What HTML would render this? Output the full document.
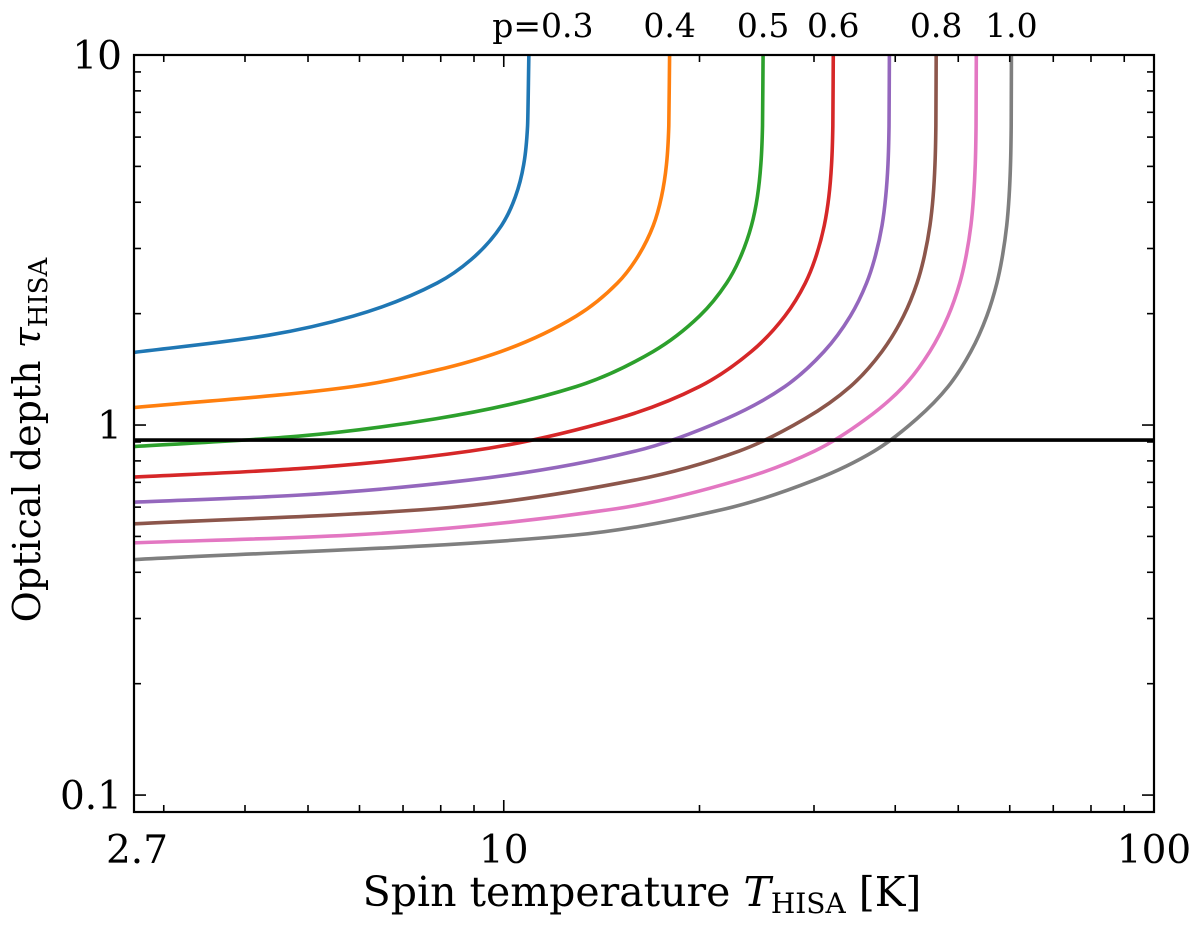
<!DOCTYPE html>
<html><head><meta charset="utf-8"><style>
html,body{margin:0;padding:0;background:#fff}
svg{display:block}
text{font-family:"DejaVu Serif","Liberation Serif",serif;fill:#000}
</style></head><body>
<svg id="chart" width="1200" height="926" viewBox="0 0 1200 926" xmlns="http://www.w3.org/2000/svg"></svg>
<script>
const pLabels = ["p=0.3","0.4","0.5","0.6","0.7","0.8","0.9","1.0"];
const colors = ["#1f77b4","#ff7f0e","#2ca02c","#d62728","#9467bd","#8c564b","#e377c2","#7f7f7f"];
const curveP03 = [[2.65,1.565],[4.35,1.749],[5.87,1.97],[7.9,2.42],[8.91,2.80],[9.92,3.46],[10.42,4.14],[10.73,5.05],[10.88,6.43],[10.93,10]];
const curveP04 = [[2.65,1.111],[5.85,1.27],[7.88,1.407],[9.9,1.58],[12.93,1.97],[14.96,2.42],[15.97,2.80],[16.98,3.46],[17.48,4.14],[17.79,5.05],[17.94,6.43],[17.99,10]];
const curveP05 = [[2.65,0.873],[4.83,0.933],[7.87,1.04],[12.92,1.27],[16.97,1.58],[20.0,1.97],[22.02,2.42],[23.03,2.80],[24.04,3.46],[24.55,4.14],[24.85,5.05],[25.0,6.43],[25.05,10]];
const curveP06 = [[2.65,0.722],[4.82,0.762],[8.87,0.85],[14.93,1.04],[19.99,1.27],[24.03,1.58],[27.06,1.97],[29.09,2.42],[30.1,2.80],[31.11,3.46],[31.62,4.14],[31.92,5.05],[32.07,6.43],[32.12,10]];
const curveP07 = [[2.65,0.618],[4.8,0.646],[8.85,0.71],[15.92,0.85],[21.99,1.04],[27.05,1.27],[31.09,1.58],[34.12,1.97],[36.14,2.42],[37.15,2.80],[38.17,3.46],[38.67,4.14],[38.98,5.05],[39.13,6.43],[39.18,10]];
const curveP08 = [[2.65,0.540],[7.83,0.594],[15.91,0.71],[22.99,0.85],[29.06,1.04],[34.11,1.27],[38.16,1.58],[41.19,1.97],[43.21,2.42],[44.22,2.80],[45.23,3.46],[45.74,4.14],[46.04,5.05],[46.19,6.43],[46.24,10]];
const curveP09 = [[2.65,0.480],[5.78,0.504],[14.88,0.594],[22.97,0.71],[30.05,0.85],[36.11,1.04],[41.17,1.27],[45.21,1.58],[48.24,1.97],[50.27,2.42],[51.28,2.80],[52.29,3.46],[52.79,4.14],[53.1,5.05],[53.25,6.43],[53.3,10]];
const curveP10 = [[2.65,0.432],[12.85,0.504],[21.95,0.594],[30.04,0.71],[37.11,0.85],[43.18,1.04],[48.23,1.27],[52.28,1.58],[55.31,1.97],[57.33,2.42],[58.34,2.80],[59.36,3.46],[59.86,4.14],[60.16,5.05],[60.31,6.43],[60.36,10]];
const curves = [curveP03,curveP04,curveP05,curveP06,curveP07,curveP08,curveP09,curveP10];
const labelShown = [true,true,true,true,false,true,false,true];
const tauLine = [0.911];
const xTickValues = [2.7,10,100];
const xTickLabels = ["2.7","10","100"];
const yTickValues = [0.1,1,10];
const yTickLabels = ["0.1","1","10"];

const L=134,R=1154,T=55,B=812;
const xMin=2.7,xMax=100,yMin=0.09,yMax=10;
const lx=v=>L+(Math.log10(v)-Math.log10(xMin))/(Math.log10(xMax)-Math.log10(xMin))*(R-L);
const ly=v=>B-(Math.log10(v)-Math.log10(yMin))/(Math.log10(yMax)-Math.log10(yMin))*(B-T);
const svg=document.getElementById('chart');
const NS="http://www.w3.org/2000/svg";
function mk(tag,attrs,parent){const e=document.createElementNS(NS,tag);for(const k in attrs)e.setAttribute(k,attrs[k]);(parent||svg).appendChild(e);return e;}

const clip=mk('clipPath',{id:'pc'});mk('rect',{x:L,y:T,width:R-L,height:B-T},clip);

function monotonePath(pts){
  const n=pts.length;const dx=[],m=[],t=[];
  for(let i=0;i<n-1;i++){dx[i]=pts[i+1][0]-pts[i][0];m[i]=(pts[i+1][1]-pts[i][1])/dx[i];}
  t[0]=m[0];t[n-1]=m[n-2];
  for(let i=1;i<n-1;i++){if(m[i-1]*m[i]<=0)t[i]=0;else{const w1=2*dx[i]+dx[i-1],w2=dx[i]+2*dx[i-1];t[i]=(w1+w2)/(w1/m[i-1]+w2/m[i]);}}
  let d="M"+pts[0][0].toFixed(2)+","+pts[0][1].toFixed(2);
  for(let i=0;i<n-1;i++){const h=dx[i]/3;
    d+=" C"+(pts[i][0]+h).toFixed(2)+","+(pts[i][1]+t[i]*h).toFixed(2)+" "+(pts[i+1][0]-h).toFixed(2)+","+(pts[i+1][1]-t[i+1]*h).toFixed(2)+" "+pts[i+1][0].toFixed(2)+","+pts[i+1][1].toFixed(2);}
  return d;
}

const g=mk('g',{'clip-path':'url(#pc)'});


curves.forEach((c,i)=>{
  const pts=c.map(p=>[lx(p[0]),ly(p[1])]);
  const p=mk('path',{d:monotonePath(pts),fill:'none',stroke:colors[i],'stroke-width':3.6},g);
  
  
});
const hl=mk('line',{x1:L,x2:R,y1:ly(tauLine[0]),y2:ly(tauLine[0]),stroke:'#000','stroke-width':3.6},g);



curves.forEach((c,i)=>{
  if(!labelShown[i])return;
  const last=c[c.length-1];
  const tx=mk('text',{x:lx(last[0])+(i==0?14:0),y:37,'font-size':33,'text-anchor':'middle'});
  tx.textContent=pLabels[i];
  
  
});

const tg=mk('g',{stroke:'#000','stroke-width':1.6});


for(let dec=1;dec<=100;dec*=10){for(let k=1;k<10;k++){const v=dec*k;if(v<xMin||v>xMax)continue;const major=(k==1);const len=major?12:7;const x=lx(v);
  mk('line',{x1:x,x2:x,y1:B,y2:B-len},tg);mk('line',{x1:x,x2:x,y1:T,y2:T+len},tg);}}
for(let dec=0.01;dec<=10;dec*=10){for(let k=1;k<10;k++){const v=dec*k;if(v<yMin||v>yMax*1.0001)continue;const major=(k==1);const len=major?12:7;const y=ly(v);
  mk('line',{x1:L,x2:L+len,y1:y,y2:y},tg);mk('line',{x1:R,x2:R-len,y1:y,y2:y},tg);}}

xTickValues.forEach((v,i)=>{const t=mk('text',{x:lx(v)+(i==0?3:0),y:863,'font-size':39,'text-anchor':'middle'});t.textContent=xTickLabels[i];
  
  });
yTickValues.forEach((v,i)=>{const t=mk('text',{x:L-12,y:ly(v)+14,'font-size':39,'text-anchor':'end'});t.textContent=yTickLabels[i];
  
  });

const fr=mk('rect',{x:L,y:T,width:R-L,height:B-T,fill:'none',stroke:'#000','stroke-width':2.2});



const xl=mk('text',{x:642,y:906,'font-size':41,'text-anchor':'middle'});


xl.innerHTML='Spin temperature <tspan font-style="italic">T</tspan><tspan font-size="28" dy="7">HISA</tspan><tspan dy="-7"> [K]</tspan>';
const yl=mk('text',{transform:'translate(40,440) rotate(-90)','font-size':38,'text-anchor':'middle'});


yl.innerHTML='Optical depth <tspan font-style="italic">τ</tspan><tspan font-size="26" dy="7">HISA</tspan>';
</script>
</body></html>
